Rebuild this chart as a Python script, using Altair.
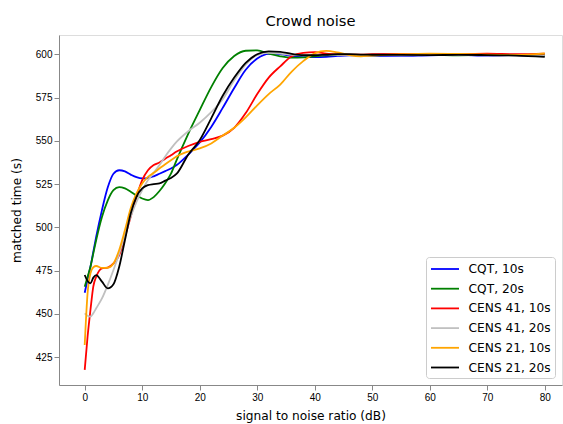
import altair as alt
import pandas as pd

snr = [0, 0.5, 1, 1.5, 2, 3, 4, 5, 6, 7, 8, 9, 10, 11, 12, 13, 14, 15, 16, 18, 20, 22,
       24, 26, 28, 30, 32, 34, 36, 38, 40, 42, 44, 46, 48, 50, 55, 60, 65, 70, 75, 80]

series_names = ["CQT, 10s", "CQT, 20s", "CENS 41, 10s", "CENS 41, 20s", "CENS 21, 10s", "CENS 21, 20s"]
series_colors = ["#0000ff", "#008000", "#ff0000", "#c0c0c0", "#ffa500", "#000000"]

cqt_10 = [462.3, 470, 477.3, 486, 494.6, 510, 523, 531, 533, 532.3, 530.5, 529, 528.3, 528.5,
          529.5, 531, 532.5, 534, 536, 542, 549, 558, 569, 580.5, 591, 597.5, 600.2, 600, 599,
          598.5, 598.3, 598.5, 599, 599.3, 599.3, 599.2, 599, 599.4, 599.6, 599.2, 599.5, 599]
cqt_20 = [465.8, 471.5, 477.3, 485, 492.7, 506, 515.5, 521.5, 523.3, 522.5, 520.6, 518.5, 516.7,
          515.8, 517.5, 521, 525.5, 531, 539, 554, 567.7, 581, 592, 599, 602, 602.2, 600.3, 598.8,
          598, 598.2, 598.8, 599.3, 599.5, 599.6, 599.5, 599.4, 599.5, 599.6, 599.4, 599.5, 599.5, 599.5]
cens41_10 = [417.7, 437, 452.3, 466, 471.5, 476.4, 476.8, 479.2, 484, 494.6, 506.2, 517.7, 527.3,
             533, 536, 537.5, 539.7, 541.7, 543.8, 547, 549.4, 551, 553, 557.5, 566, 577, 586.5,
             593, 598.8, 600.8, 601.2, 600.4, 600, 599.8, 599.8, 600, 600.2, 599.8, 600, 600.3, 600, 600.3]
cens41_20 = [450.4, 449, 448.5, 450.5, 453.3, 459, 466.7, 475.4, 485, 495.6, 506.2, 514.8, 521.5,
             527.3, 531.5, 536, 541, 545.5, 549.5, 555.5, 560.4, 566.5, 574, 585, 594, 599.5, 600.8,
             600.4, 599.6, 599.4, 599.5, 599.6, 599.7, 599.6, 599.5, 599.5, 599.4, 599.5, 599.5, 599.4, 599.3, 599]
cens21_10 = [432.1, 462, 473.5, 477, 477.7, 476.6, 476.7, 479.2, 487, 498.5, 511, 519.6, 525.4,
             529.2, 531.5, 534, 536.5, 538.8, 541, 543.8, 545.6, 548.5, 553, 557.5, 563.5, 570.5,
             577, 582.5, 590, 596, 600.5, 601.9, 601, 599.5, 598.8, 599.2, 600, 600.4, 600.2, 599.8, 599.6, 600.5]
cens21_20 = [472.5, 469, 467.7, 471, 472.5, 468.7, 464.8, 467.2, 477.3, 492.7, 508, 517.7, 522.5,
             524.4, 525, 525.4, 527, 528.5, 531, 542, 550.4, 563, 576, 586.5, 595, 600, 601.7, 601.3,
             600.2, 599.5, 599.4, 599.7, 600, 600, 599.8, 599.7, 599.6, 599.5, 599.6, 599.5, 599.2, 598.5]

x_ticks = [0, 10, 20, 30, 40, 50, 60, 70, 80]
y_ticks = [425, 450, 475, 500, 525, 550, 575, 600]

all_series = [cqt_10, cqt_20, cens41_10, cens41_20, cens21_10, cens21_20]
rows = []
for k, (name, vals) in enumerate(zip(series_names, all_series)):
    for x, y in zip(snr, vals):
        rows.append({"snr": x, "time": y, "series": name, "k": k})
df = pd.DataFrame(rows)

FONT = "DejaVu Sans"

chart = alt.Chart(df).mark_line(strokeWidth=1.8, interpolate="monotone", clip=True).encode(
    x=alt.X("snr:Q", scale=alt.Scale(domain=[-4.47, 83.0], nice=False, zero=False),
            axis=alt.Axis(values=x_ticks, title="signal to noise ratio (dB)", grid=False,
                          titlePadding=7, titleFontWeight="normal", titleFontSize=12.2,
                          titleFont=FONT, titleColor="black")),
    y=alt.Y("time:Q", scale=alt.Scale(domain=[409.0, 611.1], nice=False, zero=False),
            axis=alt.Axis(values=y_ticks, title="matched time (s)", grid=False,
                          titlePadding=12, titleFontWeight="normal", titleFontSize=12.2,
                          titleFont=FONT, titleColor="black")),
    color=alt.Color("series:N", scale=alt.Scale(domain=series_names, range=series_colors),
                    sort=series_names,
                    legend=alt.Legend(title=None, orient="bottom-right", offset=7,
                                      symbolType="M-1,0H3", symbolSize=196,
                                      symbolStrokeWidth=1.8, labelOffset=22.6,
                                      labelFontSize=12.2, labelFont=FONT, labelColor="black",
                                      padding=4, rowPadding=4.7,
                                      strokeColor="#cccccc", fillColor="white",
                                      cornerRadius=3)),
    detail="series:N",
    order=alt.Order("snr:Q"),
).properties(
    width=503,
    height=350,
    title=alt.TitleParams("Crowd noise", fontSize=14.7, fontWeight="normal", font=FONT,
                          color="black", offset=6),
    autosize=alt.AutoSizeParams(type="none"),
    padding={"left": 59, "top": 35, "right": 1, "bottom": 39},
).configure_view(
    stroke="black", strokeWidth=1
).configure_axis(
    labelFont=FONT, titleFont=FONT, labelFontSize=12.2, titleFontSize=12.2,
    titleFontWeight="normal", labelColor="black", titleColor="black",
    domainColor="black", tickColor="black", tickSize=4.3, tickWidth=1,
    labelPadding=3, domainWidth=1
).configure(
    background="white"
)

chart.save("out.html", embed_options={"renderer": "svg", "actions": False})
